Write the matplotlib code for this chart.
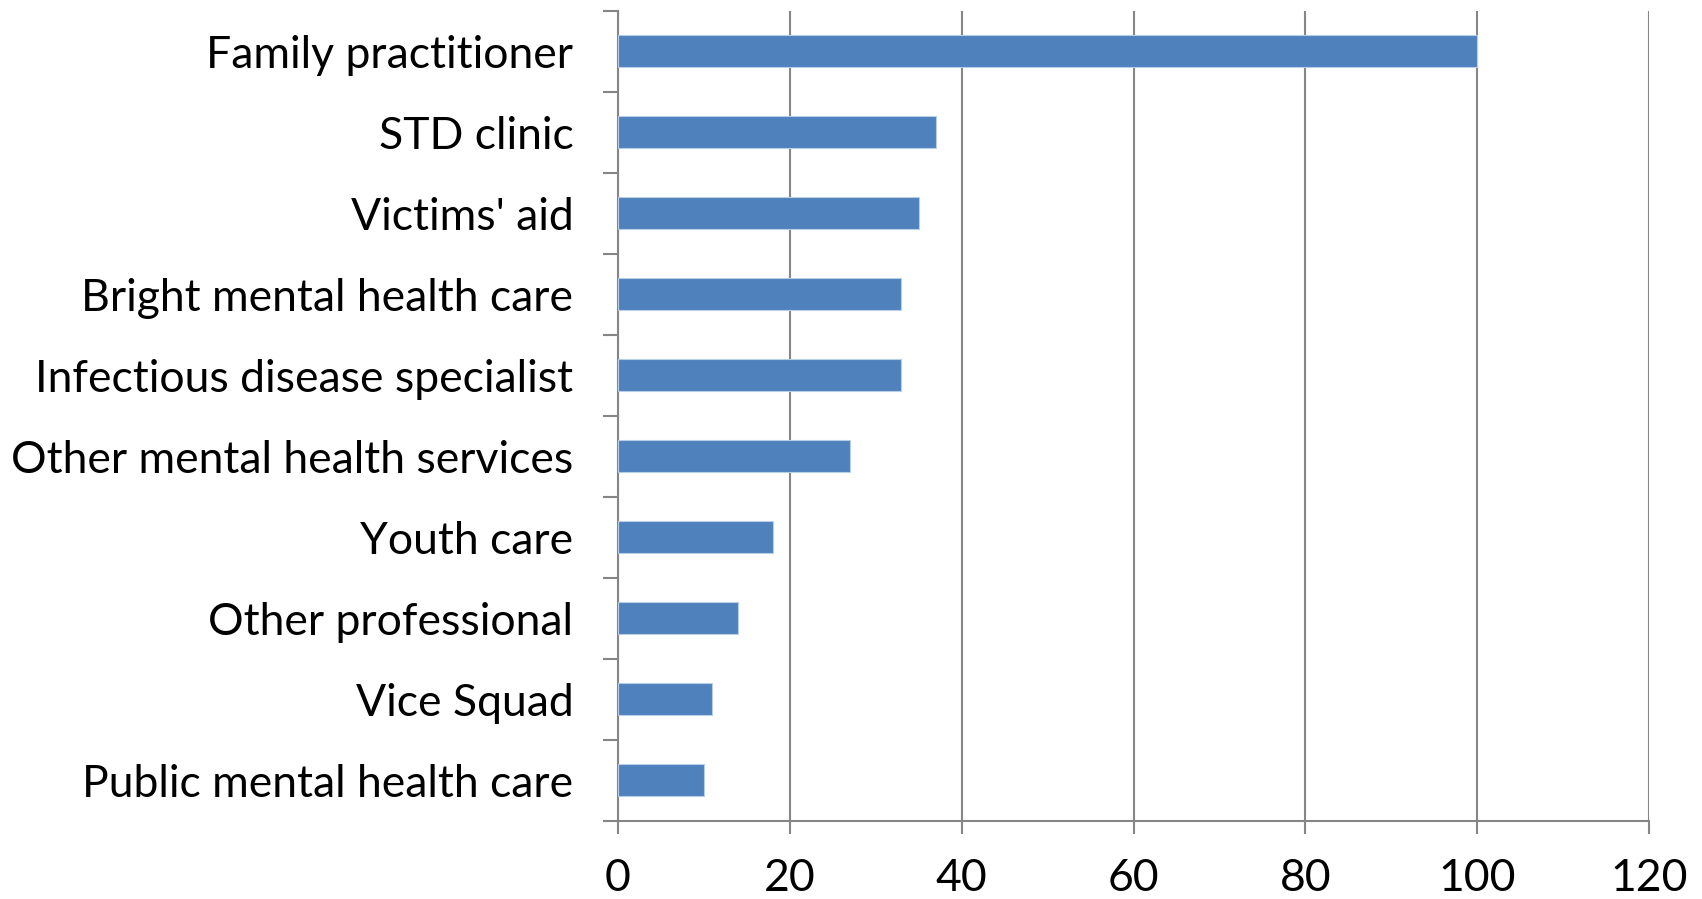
import matplotlib.pyplot as plt
import numpy as np

categories = ["Family practitioner", "STD clinic", "Victims' aid",
              "Bright mental health care", "Infectious disease specialist",
              "Other mental health services", "Youth care",
              "Other professional", "Vice Squad", "Public mental health care"]
values = [100, 37, 35, 33, 33, 27, 18, 14, 11, 10]
xticks = [0, 20, 40, 60, 80, 100, 120]

plt.rcParams['font.family'] = ['Lato', 'DejaVu Sans']

fig = plt.figure(figsize=(17.02, 8.99), dpi=100)
ax = fig.add_axes([0.363, 0.087, 0.606, 0.901])

y = np.arange(len(categories))
ax.barh(y, values, height=0.4, color="#4f81bd", edgecolor="#b9cde5", linewidth=0.8, zorder=3)

ax.set_ylim(len(categories) - 0.5, -0.5)
ax.set_xlim(0, 120)
ax.set_xticks(xticks)
ax.set_yticks(y)
ax.set_yticklabels(categories)
ax.set_yticks(np.arange(-0.5, len(categories), 1), minor=True)

ax.grid(axis="x", color="#868686", linewidth=1.5, zorder=0)
for s in ["top", "right"]:
    ax.spines[s].set_visible(False)
for s in ["left", "bottom"]:
    ax.spines[s].set_color("#868686")
    ax.spines[s].set_linewidth(1.5)

ax.tick_params(axis="y", which="major", length=0, pad=32, labelsize=32)
ax.tick_params(axis="y", which="minor", length=11, width=1.5, color="#868686")
ax.tick_params(axis="x", length=9, width=1.5, color="#868686", pad=18, labelsize=32)

fig.savefig("out.png", dpi=100)
